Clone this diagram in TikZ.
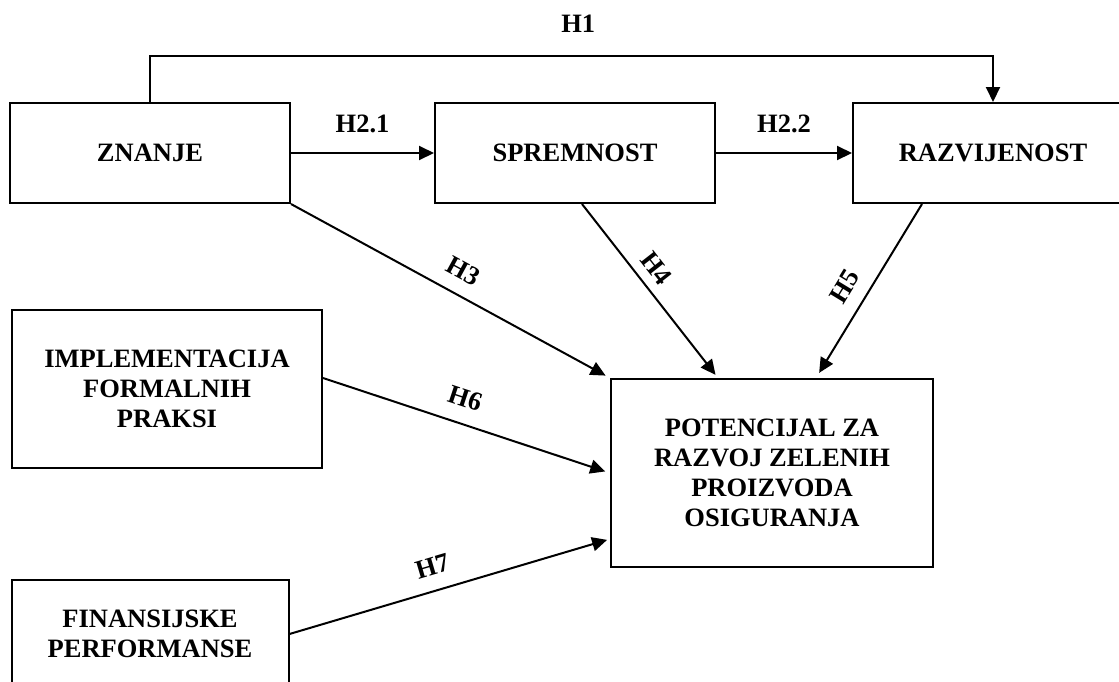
\documentclass[tikz,border=0pt]{standalone}
\usepackage{fontspec}
\setmainfont{Liberation Serif}
\usetikzlibrary{arrows.meta,calc}

\tikzset{
    txt/.style={font=\bfseries\fontsize{26.5}{30}\selectfont},
    box/.style={txt, draw, line width=2pt, align=center, inner sep=0pt,
        minimum width=280pt, minimum height=100pt},
    hyp/.style={line width=2pt, -{Triangle[length=15pt,width=14pt]}},
    hlab/.style={txt, sloped}
}

\begin{document}
\begin{tikzpicture}[x=1pt, y=1pt]

    % Page frame (the picture is cut on the right and at the bottom)
    \useasboundingbox (0,0) rectangle (1119,-681);
    \clip (0,0) rectangle (1119,-681);

    % Top row of constructs
    \foreach \name/\x/\label in {znanje/150/ZNANJE, spremnost/575/SPREMNOST, razvijenost/993/RAZVIJENOST} {
        \node[box] (\name) at (\x, -153) {\label};
    }

    % Left column of constructs
    \node[box, minimum width=310pt, minimum height=158pt] (implementacija) at (167, -389)
        {IMPLEMENTACIJA\\FORMALNIH\\PRAKSI};
    \node[box, minimum width=277pt, minimum height=108pt] (finansije) at (150, -634)
        {FINANSIJSKE\\PERFORMANSE};

    % Outcome
    \node[box, minimum width=322pt, minimum height=188pt] (potencijal) at (772, -473)
        {POTENCIJAL ZA\\RAZVOJ ZELENIH\\PROIZVODA\\OSIGURANJA};

    % H1 over the top, H2.1 and H2.2 along the row
    \draw[hyp] (znanje.north) -- ++(0, 46) -| node[txt, pos=0.254, above=19pt] {H1} (razvijenost.north);
    \draw[hyp] (znanje.east) -- node[txt, above=16pt] {H2.1} (spremnost.west);
    \draw[hyp] (spremnost.east) -- node[txt, above=16pt] {H2.2} (razvijenost.west);

    % Paths into the outcome
    \draw[hyp, shorten >=5pt] (znanje.south east) -- node[hlab, pos=0.505, above=10pt] {H3} (potencijal.north west);
    \draw[hyp, shorten >=4pt] ([xshift=7pt]spremnost.south) -- node[hlab, pos=0.437, above=6pt] {H4} ([xshift=-54pt]potencijal.north);
    \draw[hyp, shorten >=6pt] ([xshift=-71pt]razvijenost.south) -- node[hlab, pos=0.544, above=10pt] {H5} ([xshift=44pt]potencijal.north);
    \draw[hyp, shorten >=5pt] ([yshift=11pt]implementacija.east) -- node[hlab, pos=0.468, above=12pt] {H6} (potencijal.west);
    \draw[hyp, shorten >=3pt] (finansije.east) -- node[hlab, pos=0.467, above=11pt] {H7} ([yshift=-66pt]potencijal.west);

\end{tikzpicture}
\end{document}
